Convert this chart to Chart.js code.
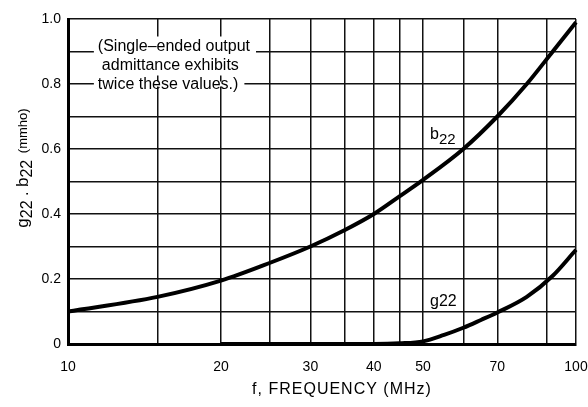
<!DOCTYPE html>
<html>
<head>
<meta charset="utf-8">
<script src="https://cdn.jsdelivr.net/npm/chart.js@4.4.0/dist/chart.umd.min.js"></script>
<style>
  html, body { margin: 0; padding: 0; background: #fff; }
  #wrap { width: 588px; height: 407px; }
</style>
</head>
<body>
<div id="wrap"><canvas id="adm"></canvas></div>
<script>
// frequency grid (MHz) and which ones carry a label
const gridFreqs = [10, 15, 20, 25, 30, 35, 40, 45, 50, 60, 70, 87.5, 100];
const freqLabels = [10, 20, 30, 40, 50, 70, 100];

// b22 (mmho)
const b22Freq = [10, 15, 20, 25, 30, 35, 40, 45, 50, 60, 70, 80, 90, 100];
const b22Vals = [0.10, 0.145, 0.195, 0.25, 0.30, 0.35, 0.40, 0.455, 0.505, 0.60, 0.70, 0.80, 0.90, 0.99];

// g22 (mmho)
const g22Freq = [20, 30, 40, 45, 50, 55, 60, 65, 70, 80, 90, 100];
const g22Vals = [0, 0, 0, 0.002, 0.008, 0.028, 0.05, 0.074, 0.097, 0.145, 0.21, 0.29];

const noteLines = ["(Single\u2013ended output", "admittance exhibits", "twice these values.)"];

const FONT = '"Liberation Sans", Arial, sans-serif';
const NARROW = '"Liberation Sans Narrow", "Liberation Sans", Arial, sans-serif';

const toPts = (xs, ys) => xs.map((f, i) => ({ x: f, y: ys[i] }));

const textPlugin = {
  id: 'texts',
  afterDraw(chart) {
    const ctx = chart.ctx;
    const xs = chart.scales.x, ys = chart.scales.y;
    ctx.save();
    ctx.fillStyle = '#000';
    ctx.textBaseline = 'alphabetic';

    // note box
    ctx.font = '16px ' + FONT;
    const nx = xs.getPixelForValue(11.45);
    const offs = [0, 4, 0];
    const base = ys.getPixelForValue(0.9) - 1;
    noteLines.forEach((t, i) => {
      const by = base + i * 19;
      const w = ctx.measureText(t).width;
      ctx.fillStyle = '#fff';
      if (i < 2) ctx.fillRect(nx - 4, by - 14, w + offs[i] + 10, 20);
      else ctx.fillRect(nx - 4, by - 7, w + 10, 5);
      ctx.fillStyle = '#000';
      ctx.fillText(t, nx + offs[i], by);
    });

    // curve labels
    const lx = xs.getPixelForValue(51.6);
    const by = ys.getPixelForValue(0.63);
    ctx.font = '16px ' + FONT;
    ctx.fillText('b', lx, by);
    const bw = ctx.measureText('b').width;
    ctx.font = '15px ' + FONT;
    ctx.fillText('22', lx + bw, by + 5);

    const gy = ys.getPixelForValue(0.117);
    ctx.font = '16px ' + FONT;
    ctx.fillText('g22', lx, gy);

    // y axis title, rotated, with subscripts
    ctx.translate(28, 168);
    ctx.rotate(-Math.PI / 2);
    const parts = [
      ['g', '17px ' + FONT, 0], ['22', '16px ' + FONT, 4], [' . ', '16px ' + FONT, 0],
      ['b', '17px ' + FONT, 0], ['22', '16px ' + FONT, 4], ['  ', '12px ' + FONT, 0],
      ['(mmho)', '13px ' + NARROW, -1]
    ];
    let total = 0;
    parts.forEach(p => { ctx.font = p[1]; total += ctx.measureText(p[0]).width; });
    let px = -total / 2;
    parts.forEach(p => {
      ctx.font = p[1];
      ctx.fillText(p[0], px, p[2]);
      px += ctx.measureText(p[0]).width;
    });
    ctx.restore();

    // x axis title
    ctx.save();
    ctx.fillStyle = '#000';
    ctx.font = '16px ' + FONT;
    ctx.letterSpacing = '1px';
    ctx.textAlign = 'center';
    ctx.fillText('f, FREQUENCY (MHz)', 342, 394);
    ctx.restore();
  }
};

new Chart(document.getElementById('adm'), {
  type: 'line',
  data: {
    datasets: [
      {
        label: 'b22',
        data: toPts(b22Freq, b22Vals),
        borderColor: '#000',
        borderWidth: 4,
        pointRadius: 0,
        cubicInterpolationMode: 'monotone',
        clip: 6
      },
      {
        label: 'g22',
        data: toPts(g22Freq, g22Vals),
        borderColor: '#000',
        borderWidth: 4,
        pointRadius: 0,
        cubicInterpolationMode: 'monotone',
        clip: 6
      }
    ]
  },
  options: {
    responsive: true,
    maintainAspectRatio: false,
    animation: false,
    layout: { padding: { top: 19, right: 0, left: 0, bottom: 0 } },
    plugins: {
      legend: { display: false },
      tooltip: { enabled: false }
    },
    scales: {
      x: {
        type: 'logarithmic',
        min: 10,
        max: 100,
        afterBuildTicks: s => { s.ticks = gridFreqs.map(v => ({ value: v })); },
        afterFit: s => { s.height = 63; s.paddingRight = 12; s.paddingLeft = 0; },
        ticks: {
          autoSkip: false,
          maxRotation: 0,
          padding: 15,
          color: '#000',
          font: { family: FONT, size: 14 },
          callback: v => freqLabels.includes(v) ? String(v) : ''
        },
        grid: { color: '#111', lineWidth: 1.5, drawTicks: false },
        border: { color: '#000', width: 3 }
      },
      y: {
        min: 0,
        max: 1,
        afterFit: s => { s.width = 68; },
        ticks: {
          stepSize: 0.1,
          padding: 7,
          color: '#000',
          font: { family: FONT, size: 14 },
          callback: v => {
            const r = Math.round(v * 10);
            if (r % 2) return '';
            return r === 0 ? '0' : (r / 10).toFixed(1);
          }
        },
        grid: { color: '#111', lineWidth: 1.5, drawTicks: false },
        border: { color: '#000', width: 3 }
      }
    }
  },
  plugins: [textPlugin]
});
</script>
</body>
</html>
